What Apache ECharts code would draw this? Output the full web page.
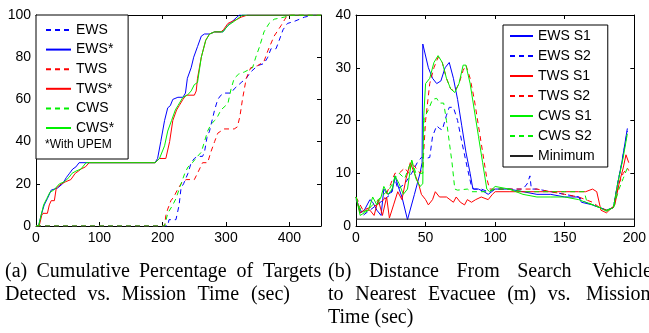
<!DOCTYPE html>
<html>
<head>
<meta charset="utf-8">
<script src="https://cdn.jsdelivr.net/npm/echarts@6/dist/echarts.min.js"></script>
<style>
html,body{margin:0;padding:0;background:#fff;}
#chart{width:649px;height:333px;}
</style>
</head>
<body>
<div id="chart"></div>
<script>
// ---------- Left chart: cumulative % of targets detected vs time ----------
const leftXTicks = [0, 100, 200, 300, 400];
const leftYTicks = [0, 20, 40, 60, 80, 100];
const leftNames = ['EWS', 'EWS*', 'TWS', 'TWS*', 'CWS', 'CWS*'];

const ews = [[0,0],[208,0],[210,3],[221,3],[226,10],[229,18],[233,20],[240,25],[245,30],[250,32],[255,33],[263,33],[266,35],[270,42],[274,45],[282,55],[287,60],[292,62],[297,63],[308,63],[313,65],[324,68],[332,70],[339,73],[350,76],[360,77],[366,80],[371,84],[379,84],[384,88],[390,93],[397,96],[408,97],[424,99],[439,100],[450,100]];
const ewsStar = [[0,0],[4,0],[8,5],[13,10],[18,13],[24,17],[34,18],[42,20],[48,23],[53,25],[58,27],[63,28],[68,30],[188,30],[192,32],[197,40],[203,50],[208,56],[212,57],[216,60],[224,61],[232,61],[236,63],[239,70],[245,75],[249,80],[255,85],[261,90],[266,91],[274,91],[282,92],[295,92],[303,95],[310,97],[321,100],[450,100]];
const tws = [[0,0],[203,0],[205,5],[208,8],[213,12],[218,14],[223,17],[229,20],[237,22],[250,22],[255,25],[263,30],[271,30],[276,35],[282,40],[287,44],[297,46],[313,46],[318,47],[322,52],[326,60],[332,70],[339,75],[350,76],[360,78],[366,83],[376,90],[387,95],[393,98],[397,100],[450,100]];
const twsStar = [[0,0],[5,0],[9,5],[11,6],[18,6],[21,10],[24,12],[29,12],[32,18],[40,20],[47,21],[55,22],[62,25],[67,26],[71,27],[78,28],[84,30],[188,30],[195,32],[205,32],[211,40],[216,50],[222,55],[226,57],[232,60],[237,62],[250,62],[253,64],[255,70],[261,80],[268,88],[274,91],[282,92],[292,92],[296,93],[303,96],[310,97],[318,98],[324,99],[334,100],[450,100]];
const cws = [[0,0],[203,0],[208,6],[216,10],[221,13],[229,20],[235,25],[240,28],[247,30],[255,33],[261,35],[266,40],[271,45],[276,48],[282,50],[287,52],[292,55],[303,58],[308,65],[313,70],[320,72],[329,73],[342,75],[347,80],[353,85],[360,92],[368,96],[376,98],[392,99],[403,100],[450,100]];
const cwsStar = [[0,0],[4,0],[8,5],[12,10],[17,13],[22,16],[28,17],[37,20],[45,21],[52,23],[57,25],[63,26],[71,27],[79,30],[188,30],[195,32],[203,38],[208,45],[214,50],[220,55],[224,57],[232,61],[239,62],[245,64],[250,67],[255,68],[261,80],[268,88],[274,91],[282,92],[295,92],[303,95],[313,97],[326,100],[450,100]];

// ---------- Right chart: distance to nearest evacuee vs time ----------
const rightXTicks = [0, 50, 100, 150, 200];
const rightYTicks = [0, 10, 20, 30, 40];
const rightNames = ['EWS S1', 'EWS S2', 'TWS S1', 'TWS S2', 'CWS S1', 'CWS S2', 'Minimum'];

const ewsS1 = [[0,5.5],[3,2.5],[6,3],[10,5],[12,4.5],[15,3],[18,2],[20,7],[23,6],[26,6.5],[28,9.5],[31,7],[33,5.5],[37,1.2],[42,6],[46,10],[47.5,12],[48,34.5],[52,30],[55,28],[58,27],[61,27.5],[64,30],[67,31],[70,28],[73,24],[76,19],[79,14],[82,10],[84,7],[88,7],[92,6.5],[95,6],[100,7],[110,7],[120,6.5],[130,6],[140,6],[150,5.5],[160,5.5],[162,4.5],[170,4],[175,3.5],[180,3],[185,3.5],[188,8],[191,12],[195,18.5]];
const ewsS2 = [[0,5],[5,2],[10,3],[15,4],[20,5],[25,6],[28,9],[30,7],[35,8],[40,10],[44,12],[47,13],[50,12.8],[53,13],[55,17],[58,19],[60,18.5],[62,18.2],[65,21],[67,22.5],[70,22.5],[73,20],[76,16],[80,11],[83,7.5],[85,7],[90,7],[95,6.5],[100,7],[110,7],[120,7],[123,8],[125,9.5],[126,7],[130,7],[140,6.5],[150,6],[160,5.5],[165,4.5],[175,3.5],[180,3],[185,3.5],[188,8],[191,12],[195,18]];
const twsS1 = [[0,5.5],[3,2.5],[6,3],[10,3],[13,2],[16,5],[19,2],[22,5.5],[24,1.5],[27,4],[30,6.5],[33,5],[36,9],[39,12],[42,10],[45,8],[47,6],[50,5],[52,4],[55,5],[57,6.5],[60,5.5],[65,5.5],[70,4.5],[72,5.5],[75,4.5],[78,4],[80,5],[83,4.5],[86,5],[90,5.5],[95,5],[98,6],[100,6.5],[110,6.5],[120,6.5],[130,6.5],[140,6.5],[150,6.5],[160,6.5],[165,6.5],[170,7],[173,6.5],[176,3],[180,2.5],[184,3.5],[186,4],[189,8],[192,11],[194,13.5],[196,12]];
const twsS2 = [[0,5.5],[5,3],[10,3.5],[15,4],[20,5],[25,8],[28,10],[31,10],[35,11],[38,10],[40,12],[43,11],[46,10],[48,11],[50,20],[53,27],[56,30],[59,32],[62,31],[65,28],[68,26],[71,25.5],[74,27],[77,29.5],[79,30.5],[82,28],[85,24],[88,19],[91,14],[94,9],[96,7],[100,7],[110,7],[120,7],[130,7],[140,6.5],[150,6],[160,5.5],[165,5],[170,4.5],[175,3.5],[180,3],[185,3.5],[189,8],[192,10],[195,11],[196,10.5]];
const cwsS1 = [[0,5.5],[3,2],[6,2.5],[9,3],[12,5.5],[15,4],[18,5.5],[20,7.5],[23,6],[26,7],[28,9.5],[31,8],[34,6],[37,7],[40,12.5],[43,9],[46,7.5],[48,8],[48.5,20],[50,27],[53,28],[56,31],[59,32.3],[62,31],[65,28],[68,26],[71,25.3],[74,27],[77,30.5],[79,30.5],[82,27],[85,22],[88,17],[91,12],[94,7],[96,6.5],[100,7.5],[110,7],[120,6],[130,5.5],[140,5.5],[150,5.5],[160,5],[165,4.5],[170,4],[175,3.5],[180,2.8],[185,3.5],[188,8],[192,13],[195,17.5]];
const cwsS2 = [[0,5.5],[4,2.5],[8,3],[12,4],[16,5],[20,6],[24,7],[28,9],[31,10],[35,9],[40,12.5],[43,10],[46,10],[48,10],[49,20.5],[52,22],[55,24],[58,24.2],[60,23.3],[63,23.3],[65,20],[67,16],[69,12],[71,7],[73,6.8],[80,7],[83,6.5],[88,6.5],[95,6.5],[100,7],[110,7],[120,6.5],[130,6.5],[140,6.5],[150,6.5],[158,6.5],[164,6.5],[166,4.5],[175,3.5],[180,3],[185,3.5],[189,7],[192,9],[195,11],[196,10.5]];
const minimum = [[0,1.3],[200,1.3]];

// ---------- Captions ----------
const captionA1 = ['(a)', 'Cumulative', 'Percentage', 'of', 'Targets'];
const captionA2 = ['Detected', 'vs.', 'Mission', 'Time', '(sec)'];
const captionB1 = ['(b)', 'Distance', 'From', 'Search', 'Vehicle'];
const captionB2 = ['to', 'Nearest', 'Evacuee', '(m)', 'vs.', 'Mission'];
const captionB3 = ['Time (sec)'];

const BLUE = '#0000ff', RED = '#ff0000', GREEN = '#00f000', BLACK = '#000';
const SANS = '"Liberation Sans", Arial, sans-serif';
const SERIF = '"Liberation Serif", "Times New Roman", serif';
const DASH = [5, 4];

const chart = echarts.init(document.getElementById('chart'), null, {renderer: 'canvas'});

function xAx(grid, min, max, ticks, pos, labels) {
  return {
    type: 'value', gridIndex: grid, min: min, max: max, position: pos,
    axisLine: {show: true, onZero: false, lineStyle: {color: BLACK, width: 1}},
    axisTick: {show: true, inside: true, length: 4, customValues: ticks, lineStyle: {color: BLACK}},
    axisLabel: {show: labels, customValues: ticks, color: BLACK, fontFamily: SANS, fontSize: 14, margin: 5},
    splitLine: {show: false}
  };
}
function yAx(grid, min, max, ticks, pos, labels) {
  return {
    type: 'value', gridIndex: grid, min: min, max: max, position: pos,
    axisLine: {show: true, onZero: false, lineStyle: {color: BLACK, width: 1}},
    axisTick: {show: true, inside: true, length: 4, customValues: ticks, lineStyle: {color: BLACK}},
    axisLabel: {show: labels, customValues: ticks, color: BLACK, fontFamily: SANS, fontSize: 14, margin: 5},
    splitLine: {show: false}
  };
}
function line(name, data, color, dashed, xi, yi, z) {
  return {
    name: name, type: 'line', data: data, xAxisIndex: xi, yAxisIndex: yi,
    showSymbol: false, symbol: 'none', smooth: false, z: z || 2,
    lineStyle: {color: color, width: 1, type: dashed ? DASH : 'solid'},
    itemStyle: {color: color},
    emphasis: {disabled: true}
  };
}

const graphics = [];
function words(list, xs, y) {
  list.forEach((w, i) => graphics.push({
    type: 'text', x: xs[i], y: y, silent: true,
    style: {text: w, font: '20px ' + SERIF, fill: BLACK, align: 'left', verticalAlign: 'middle'}
  }));
}
words(captionA1, [5, 36.5, 139, 236.5, 263], 272);
words(captionA2, [5, 87.4, 121.6, 197.5, 251.1], 295);
words(captionB1, [328, 369, 456.4, 517.2, 592], 272);
words(captionB2, [328, 355.3, 427.9, 507.2, 547.7, 586], 295);
words(captionB3, [328], 318);
graphics.push({
  type: 'text', x: 45, y: 145, silent: true, z: 100,
  style: {text: '*With UPEM', font: '12px ' + SANS, fill: BLACK, align: 'left', verticalAlign: 'middle'}
});

const legendCommon = {
  orient: 'vertical', backgroundColor: '#fff', borderColor: BLACK, borderWidth: 1,
  textStyle: {fontFamily: SANS, fontSize: 14, color: BLACK},
  itemStyle: {opacity: 0, borderWidth: 0},
  selectedMode: false
};

const option = {
  animation: false,
  backgroundColor: '#fff',
  grid: [
    {left: 36, top: 15, width: 285, height: 211, containLabel: false},
    {left: 356, top: 15, width: 281, height: 211, containLabel: false}
  ],
  xAxis: [
    xAx(0, 0, 450, leftXTicks, 'bottom', true),
    xAx(0, 0, 450, leftXTicks, 'top', false),
    xAx(1, 0, 200, rightXTicks, 'bottom', true),
    xAx(1, 0, 200, rightXTicks, 'top', false)
  ],
  yAxis: [
    yAx(0, 0, 100, leftYTicks, 'left', true),
    yAx(0, 0, 100, leftYTicks, 'right', false),
    yAx(1, 0, 40, rightYTicks, 'left', true),
    yAx(1, 0, 40, rightYTicks, 'right', false)
  ],
  legend: [
    Object.assign({}, legendCommon, {
      data: leftNames, left: 36, top: 15,
      itemWidth: 25, itemHeight: 14, itemGap: 5.6,
      padding: [8, 14, 24, 9]
    }),
    Object.assign({}, legendCommon, {
      data: rightNames, left: 503, top: 25,
      itemWidth: 23, itemHeight: 14, itemGap: 6,
      padding: [4, 13, 4, 6]
    })
  ],
  series: [
    line('EWS', ews, BLUE, true, 0, 0),
    line('EWS*', ewsStar, BLUE, false, 0, 0),
    line('TWS', tws, RED, true, 0, 0),
    line('TWS*', twsStar, RED, false, 0, 0),
    line('CWS', cws, GREEN, true, 0, 0),
    line('CWS*', cwsStar, GREEN, false, 0, 0),
    line('EWS S1', ewsS1, BLUE, false, 2, 2),
    line('EWS S2', ewsS2, BLUE, true, 2, 2),
    line('TWS S1', twsS1, RED, false, 2, 2),
    line('TWS S2', twsS2, RED, true, 2, 2),
    line('CWS S1', cwsS1, GREEN, false, 2, 2),
    line('CWS S2', cwsS2, GREEN, true, 2, 2),
    line('Minimum', minimum, '#222', false, 2, 2)
  ],
  graphic: graphics
};
chart.setOption(option);
</script>
</body>
</html>
